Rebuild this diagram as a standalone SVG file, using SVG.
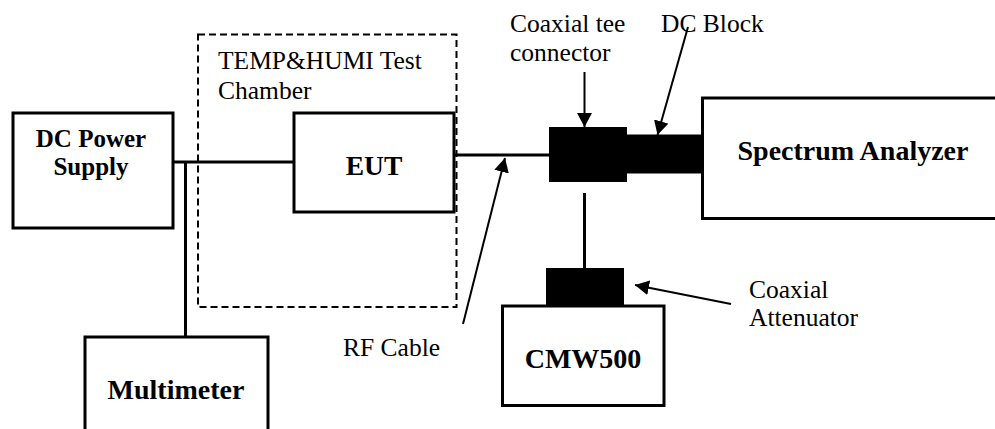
<svg xmlns="http://www.w3.org/2000/svg" width="995" height="429" viewBox="0 0 995 429">
<style>
.box{fill:#fff;stroke:#000;stroke-width:3}
.blk{fill:#000;stroke:none}
.wire{stroke:#000;stroke-width:3;fill:none}
.arr{stroke:#000;stroke-width:2;fill:none;marker-end:url(#ah)}
</style>
<defs>
<marker id="ah" markerUnits="userSpaceOnUse" markerWidth="15" markerHeight="16" refX="14" refY="7.5" orient="auto">
<path d="M0,0 L14,7.5 L0,15 z" fill="#000"/>
</marker>
</defs>
<rect width="995" height="429" fill="#fff"/>
<g id="chamber">
<rect x="198" y="34.5" width="258.5" height="272.5" fill="none" stroke="#000" stroke-width="2" stroke-dasharray="7,4"/>
<text x="218" y="69" font-family="Liberation Serif" font-size="25.5">TEMP&amp;HUMI Test</text>
<text x="218" y="99" font-family="Liberation Serif" font-size="25.5">Chamber</text>
</g>
<g id="connectors">
<line class="wire" x1="173" y1="162" x2="294" y2="162"/>
<line class="wire" x1="185.5" y1="162" x2="185.5" y2="337"/>
<line class="wire" x1="454" y1="155" x2="549" y2="155"/>
<line class="wire" x1="584.5" y1="193" x2="584.5" y2="268"/>
<line class="arr" x1="463" y1="324" x2="505" y2="158"/>
<line class="arr" x1="584.5" y1="72" x2="584.5" y2="127"/>
<line class="arr" x1="688" y1="27" x2="657.5" y2="135"/>
<line class="arr" x1="731" y1="304" x2="635" y2="285"/>
<text x="343" y="356" font-family="Liberation Serif" font-size="25.5">RF Cable</text>
</g>
<g id="dc-power">
<rect class="box" x="13" y="113" width="160" height="115"/>
<text x="91" y="147" font-family="Liberation Serif" font-size="25" font-weight="bold" text-anchor="middle">DC Power</text>
<text x="91" y="175" font-family="Liberation Serif" font-size="25" font-weight="bold" text-anchor="middle">Supply</text>
</g>
<g id="eut">
<rect class="box" x="294" y="113" width="160" height="99"/>
<text x="374" y="174.5" font-family="Liberation Serif" font-size="27.5" font-weight="bold" text-anchor="middle">EUT</text>
</g>
<g id="multimeter">
<rect class="box" x="85" y="337" width="183" height="100"/>
<text x="176" y="399" font-family="Liberation Serif" font-size="28" font-weight="bold" text-anchor="middle">Multimeter</text>
</g>
<g id="tee">
<rect class="blk" x="549" y="127" width="78" height="55"/>
<text x="510" y="32" font-family="Liberation Serif" font-size="25.5">Coaxial tee</text>
<text x="510" y="61" font-family="Liberation Serif" font-size="25.5">connector</text>
</g>
<g id="dc-block">
<rect class="blk" x="626" y="134.5" width="77" height="39"/>
<text x="661" y="32" font-family="Liberation Serif" font-size="25.5">DC Block</text>
</g>
<g id="spectrum">
<rect class="box" x="702.5" y="98" width="300" height="120.5"/>
<text x="853" y="160" font-family="Liberation Serif" font-size="28" font-weight="bold" text-anchor="middle">Spectrum Analyzer</text>
</g>
<g id="attenuator">
<rect class="blk" x="546" y="268" width="78" height="38"/>
<text x="749" y="298" font-family="Liberation Serif" font-size="25.5">Coaxial</text>
<text x="749" y="326" font-family="Liberation Serif" font-size="25.5">Attenuator</text>
</g>
<g id="cmw500">
<rect class="box" x="502.5" y="306" width="161.5" height="99.5"/>
<text x="583" y="368" font-family="Liberation Serif" font-size="28" font-weight="bold" text-anchor="middle">CMW500</text>
</g>
</svg>
